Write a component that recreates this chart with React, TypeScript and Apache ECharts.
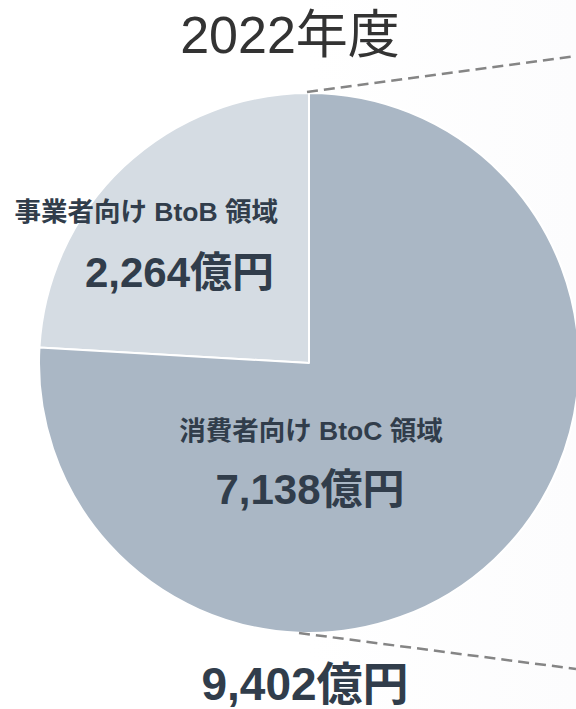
import React, { useEffect, useRef } from "react";
import * as echarts from "echarts";

const yearLabel = "2022年度";
const categories = ["事業者向け BtoB 領域", "消費者向け BtoC 領域"];
const values = [2264, 7138];
const unit = "億円";
const sliceColors = ["#d5dce3", "#aab7c5"];

const FONT = "'Liberation Sans', Arial, 'Noto Sans CJK JP', sans-serif";
const TEXT_DARK = "#313d4b";

const fmt = (v: number) => v.toLocaleString("en-US") + unit;

export default function App() {
  const ref = useRef<HTMLDivElement>(null);
  useEffect(() => {
    if (!ref.current) return;
    const chart = echarts.init(ref.current, undefined, { renderer: "svg" });
    const total = values.reduce((a, b) => a + b, 0);
    const cx = 309;
    const cy = 363;
    const r = 270;
    const dash = { stroke: "#858585", lineWidth: 2.5, lineDash: [11, 6] };
    chart.setOption({
      animation: false,
      backgroundColor: "#ffffff",
      graphic: [
        {
          type: "rect",
          z: -10,
          shape: { x: cx, y: 0, width: 576 - cx, height: 709 },
          style: {
            fill: new echarts.graphic.LinearGradient(0, 0, 1, 0, [
              { offset: 0, color: "#ffffff" },
              { offset: 1, color: "#fcfcfd" },
            ]),
          },
          silent: true,
        },
        {
          type: "line",
          shape: { x1: cx - 2, y1: cy - r - 1, x2: 576, y2: 56 },
          style: dash,
          z: 10,
        },
        {
          type: "line",
          shape: { x1: cx - 10, y1: cy + r, x2: 576, y2: 669 },
          style: dash,
          z: 10,
        },
        {
          type: "text",
          x: 290,
          y: 35,
          style: {
            text: yearLabel,
            fontSize: 52,
            fontFamily: FONT,
            fill: "#333333",
            align: "center",
            verticalAlign: "middle",
          },
          z: 20,
        },
        {
          type: "text",
          x: 278,
          y: 212,
          style: {
            text: categories[0],
            fontSize: 26.5,
            fontWeight: "bold",
            fontFamily: FONT,
            fill: TEXT_DARK,
            align: "right",
            verticalAlign: "middle",
          },
          z: 20,
        },
        {
          type: "text",
          x: 274,
          y: 272,
          style: {
            text: fmt(values[0]),
            fontSize: 42,
            fontWeight: "bold",
            fontFamily: FONT,
            fill: TEXT_DARK,
            align: "right",
            verticalAlign: "middle",
          },
          z: 20,
        },
        {
          type: "text",
          x: 311,
          y: 431,
          style: {
            text: categories[1],
            fontSize: 26.5,
            fontWeight: "bold",
            fontFamily: FONT,
            fill: TEXT_DARK,
            align: "center",
            verticalAlign: "middle",
          },
          z: 20,
        },
        {
          type: "text",
          x: 310,
          y: 489,
          style: {
            text: fmt(values[1]),
            fontSize: 42,
            fontWeight: "bold",
            fontFamily: FONT,
            fill: TEXT_DARK,
            align: "center",
            verticalAlign: "middle",
          },
          z: 20,
        },
        {
          type: "text",
          x: 305,
          y: 684,
          style: {
            text: fmt(total),
            fontSize: 46,
            fontWeight: "bold",
            fontFamily: FONT,
            fill: TEXT_DARK,
            align: "center",
            verticalAlign: "middle",
          },
          z: 20,
        },
      ],
      series: [
        {
          type: "pie",
          center: [cx, cy],
          radius: [0, r],
          startAngle: 90,
          clockwise: false,
          label: { show: false },
          labelLine: { show: false },
          silent: true,
          itemStyle: { borderColor: "#ffffff", borderWidth: 2 },
          data: categories.map((name, i) => ({
            name,
            value: values[i],
            itemStyle: { color: sliceColors[i] },
          })),
        },
      ],
    });
    return () => chart.dispose();
  }, []);
  return (
    <div
      ref={ref}
      style={{ position: "absolute", left: 0, top: 0, width: 576, height: 709 }}
    />
  );
}
